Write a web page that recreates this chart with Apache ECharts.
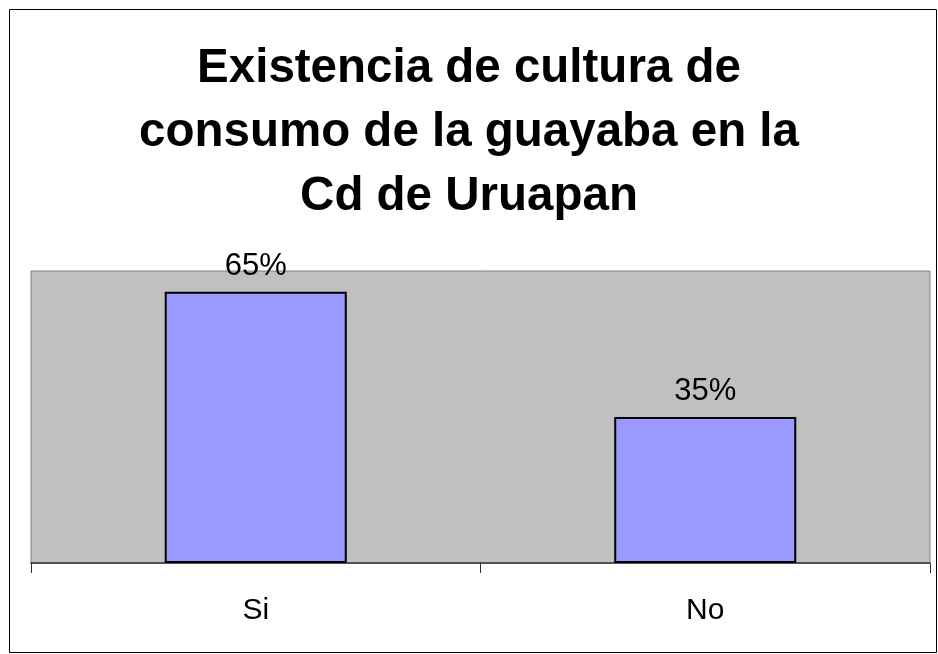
<!DOCTYPE html>
<html>
<head>
<meta charset="utf-8">
<script src="https://cdn.jsdelivr.net/npm/echarts@6/dist/echarts.min.js"></script>
<style>
  html, body { margin: 0; padding: 0; background: #fff; }
  #chart { width: 938px; height: 654px; }
</style>
</head>
<body>
<div id="chart"></div>
<script>
const titleText = "Existencia de cultura de\nconsumo de la guayaba en la\nCd de Uruapan";
const categories = ["Si", "No"];
const percentValues = [65, 35];

const chart = echarts.init(document.getElementById("chart"), null, { renderer: "canvas" });

const option = {
  animation: false,
  backgroundColor: "#ffffff",
  title: {
    text: titleText,
    left: 464,
    top: 32,
    textAlign: "center",
    textStyle: {
      fontFamily: "Liberation Sans, Arial, sans-serif",
      fontWeight: "bold",
      fontSize: 47.5,
      lineHeight: 64,
      color: "#000",
    },
  },
  graphic: [
    {
      type: "rect",
      shape: { x: 9.5, y: 9.5, width: 927, height: 643 },
      style: { fill: "none", stroke: "#000", lineWidth: 1 },
      silent: true,
    },
  ],
  grid: {
    left: 31,
    right: 8,
    top: 271,
    bottom: 91,
    show: true,
    backgroundColor: "#C0C0C0",
    borderColor: "#808080",
    borderWidth: 1,
  },
  xAxis: {
    type: "category",
    data: categories,
    axisLine: { show: true, lineStyle: { color: "#333", width: 1.5 } },
    axisTick: { show: true, length: 10, lineStyle: { color: "#333" } },
    axisLabel: {
      margin: 33,
      fontFamily: "Liberation Sans, Arial, sans-serif",
      fontSize: 30,
      color: "#000",
    },
  },
  yAxis: {
    type: "value",
    min: 0,
    max: 70,
    show: false,
    splitLine: { show: false },
  },
  series: [
    {
      type: "bar",
      data: percentValues,
      barWidth: "40.5%",
      itemStyle: { color: "#9999FF", borderColor: "#000", borderWidth: 2 },
      label: {
        show: true,
        position: "top",
        distance: 10,
        formatter: "{c}%",
        fontFamily: "Liberation Sans, Arial, sans-serif",
        fontSize: 31,
        color: "#000",
      },
    },
  ],
};

chart.setOption(option);
</script>
</body>
</html>
